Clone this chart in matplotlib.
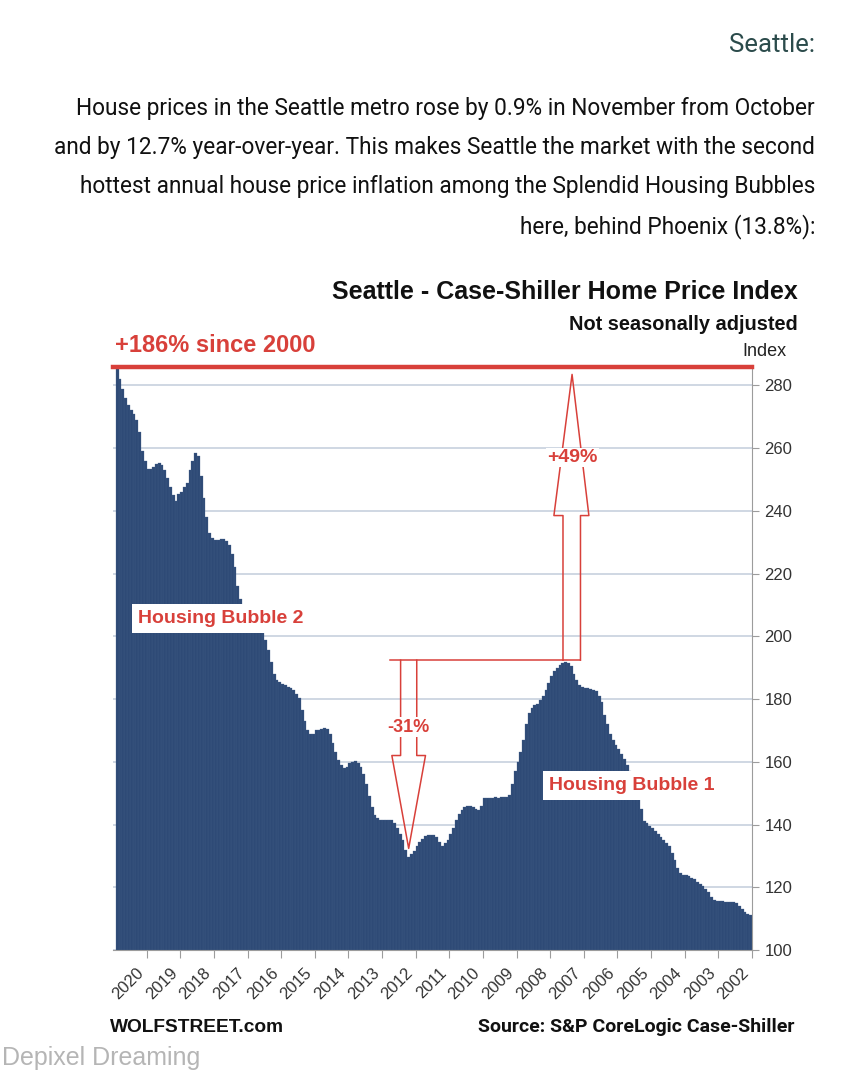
import numpy as np
import matplotlib
matplotlib.use('Agg')
import matplotlib.pyplot as plt
from matplotlib import font_manager

# Seattle Case-Shiller index, monthly, Jan 2002 .. Nov 2020
y2002 = [111.1, 111.5, 112, 113, 114, 115, 115.2, 115.3, 115.3, 115.4, 115.5, 115.5]
y2003 = [115.6, 116, 117, 118.5, 119.5, 120.5, 121, 121.8, 122.5, 123, 123.5, 123.8]
y2004 = [124, 124.5, 126, 128.7, 131, 133, 134, 135, 136, 137, 138, 139]
y2005 = [139.5, 140.5, 141, 145, 148.5, 152, 155, 157, 159, 161, 162.5, 164]
y2006 = [165.5, 167, 169, 172, 175, 179, 181, 182.5, 183, 183.2, 183.4, 183.6]
y2007 = [183.7, 184.5, 186, 188, 190.5, 191.4, 191.7, 191.6, 191, 190, 189, 187.5]
y2008 = [185, 183, 181, 179.6, 178.5, 178, 177, 175.5, 172, 167, 163, 160]
y2009 = [157, 153, 149.5, 148.7, 148.7, 148.7, 148.6, 148.7, 148.6, 148.5, 148.4, 148.4]
y2010 = [146, 144.6, 145, 145.5, 146, 146, 145.5, 144.6, 143.5, 141.5, 139, 137]
y2011 = [135, 134, 133, 134.5, 136, 136.6, 136.6, 136.6, 136.3, 135.5, 134.5, 133]
y2012 = [131.5, 130.5, 129.6, 132, 135, 137, 139, 140.5, 141.4, 141.4, 141.4, 141.4]
y2013 = [141.4, 142, 143, 145.5, 149, 153, 156, 158.3, 159.5, 160.2, 160, 159.6]
y2014 = [158.5, 158, 159, 160.5, 163, 166, 169, 170.5, 170.7, 170.5, 170.2, 170]
y2015 = [169, 169, 170, 173, 176.4, 180.3, 181.5, 182.8, 183.5, 184, 184.4, 184.8]
y2016 = [185.4, 186, 188, 191.7, 195.5, 198.7, 201, 203, 204, 205, 205.5, 206]
y2017 = [207, 209, 212, 216, 222, 226.4, 229, 230.5, 231, 231, 230.8, 230.6]
y2018 = [231.5, 233, 238, 244, 251, 257.6, 258.3, 256, 253, 249, 247.5, 246]
y2019 = [245.5, 243.3, 245, 247.5, 250.6, 253, 254.5, 255.4, 255, 254, 253.5, 253.5]
y2020 = [256, 259, 265, 269, 271, 272, 273.6, 276, 279, 282, 286]

years = list(range(2002, 2021))
yticks = [100, 120, 140, 160, 180, 200, 220, 240, 260, 280]
arrow_labels = ['+49%', '-31%']

title = 'Seattle - Case-Shiller Home Price Index'
subtitle = 'Not seasonally adjusted'
heading = 'Seattle:'
paragraph = [
    'House prices in the Seattle metro rose by 0.9% in November from October',
    'and by 12.7% year-over-year. This makes Seattle the market with the second',
    'hottest annual house price inflation among the Splendid Housing Bubbles',
    'here, behind Phoenix (13.8%):',
]

values = np.array(y2002 + y2003 + y2004 + y2005 + y2006 + y2007 + y2008 + y2009 + y2010
                  + y2011 + y2012 + y2013 + y2014 + y2015 + y2016 + y2017 + y2018 + y2019 + y2020)
t = 2002 + np.arange(len(values)) / 12.0

names = {f.name for f in font_manager.fontManager.ttflist}
narrow = 'Liberation Sans Narrow' if 'Liberation Sans Narrow' in names else 'Roboto'
plt.rcParams['font.family'] = ['Liberation Sans', 'DejaVu Sans']

navy = '#2e4a76'
red = '#d8403a'
grey = '#9c9c9c'

fig = plt.figure(figsize=(8.61, 10.8), dpi=100)
W, H = 861, 1080

def fx(px):
    return px / W

def fy(py):
    return 1 - py / H

# blog text above the chart (layout follows the reference, right aligned)
fig.text(fx(815), fy(45), heading, ha='right', va='center', fontsize=18.5,
         color='#2b4b4b', family='Roboto')
for i, line in enumerate(paragraph):
    fig.text(fx(815), fy(108 + i * 39.5), line, ha='right', va='center',
             fontsize=16.3, color='#111111', family='Roboto')

ax = fig.add_axes([fx(113), fy(950), (752 - 113) / W, (950 - 365) / H])
ax.bar(t, values, width=1 / 12, align='edge', color=navy, edgecolor='#44608b',
       linewidth=0.2, zorder=2)

ax.set_xlim(2021.0, 2002.0)
ax.set_ylim(100, 286.5)
ax.set_yticks(yticks)
ax.set_xticks(years)
ax.set_xticklabels([str(y) for y in years], rotation=45, ha='right', va='top',
                   fontsize=12, color='#333333')
ax.yaxis.tick_right()
ax.tick_params(axis='y', length=5, color=grey, labelsize=12, labelcolor='#333333', pad=4)
ax.tick_params(axis='x', length=6, color=grey, pad=5)
ax.grid(axis='y', color='#cbd4e0', linewidth=1.3, zorder=0)
for s in ['top', 'left']:
    ax.spines[s].set_visible(False)
ax.spines['right'].set_color(grey)
ax.spines['bottom'].set_color(grey)

# red line at the latest level
last = values[-1]
ax.axhline(last, color=red, linewidth=3.2, zorder=4, clip_on=False)

# arrows: peak 2007 -> trough 2012 -> latest
i_peak = int(np.argmax(values[:84]))
i_trough = 108 + int(np.argmin(values[108:132]))
peak = values[i_peak]
trough = values[i_trough]
lvl = peak + 0.7
up_x = t[i_peak] - 0.15
dn_x = t[i_trough] + 1 / 24
up_base = 238.5
dn_base = 162
lw = 1.1

ax.plot([dn_x + 0.55, up_x - 0.25], [lvl, lvl], color=red, lw=lw, zorder=5)
ax.plot([up_x + 0.27, up_x + 0.27, up_x + 0.54, up_x, up_x - 0.5, up_x - 0.25, up_x - 0.25],
        [lvl, up_base, up_base, last - 2.5, up_base, up_base, lvl],
        color=red, lw=lw, zorder=5)
ax.plot([dn_x + 0.24, dn_x + 0.24, dn_x + 0.5, dn_x, dn_x - 0.5, dn_x - 0.24, dn_x - 0.24],
        [lvl, dn_base, dn_base, trough + 2.8, dn_base, dn_base, lvl],
        color=red, lw=lw, zorder=5)
ax.text(up_x, 257, arrow_labels[0], ha='center', va='center', color=red,
        fontsize=14, fontweight='bold', zorder=6,
        bbox=dict(facecolor='white', edgecolor='none', pad=1))
ax.text(dn_x, 171, arrow_labels[1], ha='center', va='center', color=red,
        fontsize=13, fontweight='bold', zorder=6,
        bbox=dict(facecolor='white', edgecolor='none', pad=1))

# bubble labels
ax.text(2017.79, 205.7, 'Housing Bubble 2', ha='center', va='center', color=red,
        fontsize=14, fontweight='bold', zorder=6,
        bbox=dict(facecolor='white', edgecolor='none', boxstyle='square,pad=0.3'))
ax.text(2005.57, 152.5, 'Housing Bubble 1', ha='center', va='center', color=red,
        fontsize=14, fontweight='bold', zorder=6,
        bbox=dict(facecolor='white', edgecolor='none', boxstyle='square,pad=0.3'))

# chart titles
fig.text(fx(798), fy(292), title, ha='right', va='center', fontsize=18,
         fontweight='bold', color='#111111')
fig.text(fx(798), fy(324), subtitle, ha='right', va='center', fontsize=14.4,
         fontweight='bold', color='#111111')
fig.text(fx(786), fy(352), 'Index', ha='right', va='center', fontsize=13,
         color='#222222')
fig.text(fx(115), fy(345), '+186% since 2000', ha='left', va='center', fontsize=17,
         fontweight='bold', color=red)

fig.text(fx(795), fy(1027), 'Source: S&P CoreLogic Case-Shiller', ha='right',
         va='center', fontsize=14, fontweight='bold', color='#111111', family=narrow)
fig.text(fx(110), fy(1027), 'WOLFSTREET.com', ha='left', va='center', fontsize=13.8,
         fontweight='bold', color='#111111')
fig.text(fx(2), fy(1058), 'Depixel Dreaming', ha='left', va='center', fontsize=18,
         color='#b5b5b5')

fig.savefig('out.png', dpi=100)
